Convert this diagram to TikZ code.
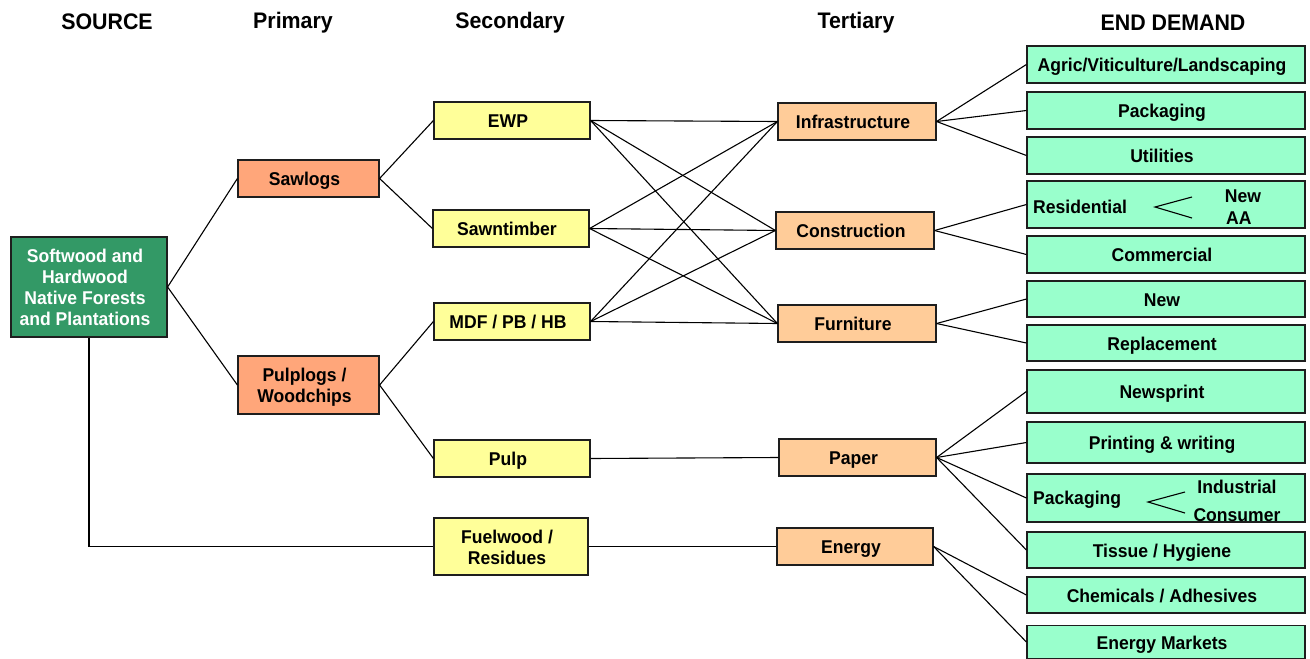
\documentclass[tikz,border=0pt]{standalone}
\usepackage{fontspec}
\setmainfont{Liberation Sans}[FakeStretch=0.95]
\definecolor{srcgreen}{RGB}{51,153,102}
\definecolor{salmon}{RGB}{255,166,122}
\definecolor{paleyellow}{RGB}{255,255,153}
\definecolor{peach}{RGB}{255,204,153}
\definecolor{mint}{RGB}{153,255,204}
\definecolor{edge}{RGB}{30,30,30}
\newcommand{\mlines}[1]{\begin{tabular}[b]{@{}c@{}}#1\end{tabular}}
\tikzset{
  box/.style={draw=edge, line width=1.2pt, inner sep=1pt, text depth=0pt, text height=14pt,
    font=\fontsize{18.5}{21}\selectfont\bfseries,
    execute at end node={\hspace*{8pt}}},
  twolines/.style={text height=35pt},
  fourlines/.style={text height=77pt},
  srcbox/.style={box, fill=srcgreen, text=white},
  primbox/.style={box, fill=salmon},
  secbox/.style={box, fill=paleyellow},
  terbox/.style={box, fill=peach},
  endbox/.style={box, fill=mint, minimum width=278pt},
  head/.style={font=\fontsize{22.5}{25}\selectfont\bfseries},
  lbl/.style={font=\fontsize{18.5}{21}\selectfont\bfseries, inner sep=0pt, text height=14pt, text depth=0pt},
  conn/.style={draw=black, line width=1.1pt},
}
\begin{document}
\begin{tikzpicture}[x=1pt,y=-1pt]
\useasboundingbox (0,0) rectangle (1310,659);
% headers
\node[head] (hsrc) at (107,22) {SOURCE};
\node[head] (hprim) at (293,23) {Primary};
\node[head] (hsec) at (510,23) {Secondary};
\node[head] (hter) at (856,23) {Tertiary};
\node[head] (hend) at (1173,23) {END DEMAND};
% source
\node[srcbox, fourlines, minimum width=156pt, minimum height=100pt] (src) at (89,287) {\mlines{Softwood and\\Hardwood\\Native Forests\\and Plantations}};
% primary
\node[primbox, minimum width=141pt, minimum height=37pt] (saw) at (308.5,178.5) {Sawlogs};
\node[primbox, twolines, minimum width=141pt, minimum height=58pt] (pulplogs) at (308.5,385) {\mlines{Pulplogs /\\Woodchips}};
% secondary
\node[secbox, minimum width=156pt, minimum height=37pt] (ewp) at (512,120.5) {EWP};
\node[secbox, minimum width=156pt, minimum height=37pt] (sawn) at (511,228.5) {Sawntimber};
\node[secbox, minimum width=156pt, minimum height=37pt] (mdf) at (512,321.5) {MDF / PB / HB};
\node[secbox, minimum width=156pt, minimum height=37pt] (pulp) at (512,458.5) {Pulp};
\node[secbox, twolines, minimum width=154pt, minimum height=57pt] (fuel) at (511,546.5) {\mlines{Fuelwood /\\Residues}};
% tertiary
\node[terbox, minimum width=158pt, minimum height=37pt] (infra) at (857,121.5) {Infrastructure};
\node[terbox, minimum width=158pt, minimum height=37pt] (cons) at (855,230.5) {Construction};
\node[terbox, minimum width=158pt, minimum height=37pt] (furn) at (857,323.5) {Furniture};
\node[terbox, minimum width=157pt, minimum height=37pt] (paper) at (857.5,457.5) {Paper};
\node[terbox, minimum width=156pt, minimum height=37pt] (energy) at (855,546.5) {Energy};
% end demand
\node[endbox, minimum height=37pt] (agric) at (1166,64.5) {Agric/Viticulture/Landscaping};
\node[endbox, minimum height=37pt] (packa) at (1166,110.5) {Packaging};
\node[endbox, minimum height=37pt] (util) at (1166,155.5) {Utilities};
\node[endbox, minimum height=47pt] (resid) at (1166,204.5) {};
\node[endbox, minimum height=37pt] (comm) at (1166,254.5) {Commercial};
\node[endbox, minimum height=36pt] (new) at (1166,299) {New};
\node[endbox, minimum height=36pt] (repl) at (1166,343) {Replacement};
\node[endbox, minimum height=43pt] (newsp) at (1166,391.5) {Newsprint};
\node[endbox, minimum height=41pt] (print) at (1166,442.5) {Printing \& writing};
\node[endbox, minimum height=48pt] (packb) at (1166,498) {};
\node[endbox, minimum height=36pt] (tissue) at (1166,550) {Tissue / Hygiene};
\node[endbox, minimum height=36pt] (chem) at (1166,595) {Chemicals / Adhesives};
\node[endbox, minimum height=33pt] (emark) at (1166,642) {Energy Markets};
% inner labels
\node[lbl, anchor=west] (residtxt) at (1033,206) {Residential};
\node[lbl] (resnew) at (1243,195) {New};
\node[lbl, anchor=west] (resaa) at (1226,217) {AA};
\coordinate (rfork) at (1155,207);
\coordinate (rtop) at (1192,197);
\coordinate (rbot) at (1192,218);
\draw[conn] (rtop) -- (rfork) -- (rbot);
\node[lbl, anchor=west] (packtxt) at (1033,497) {Packaging};
\node[lbl] (pind) at (1237,486) {Industrial};
\node[lbl] (pcon) at (1237,514) {Consumer};
\coordinate (pfork) at (1148,502);
\coordinate (ptop) at (1185,492);
\coordinate (pbot) at (1185,513);
\draw[conn] (ptop) -- (pfork) -- (pbot);
% connectors
\draw[conn] (saw.west) -- (src.east) -- (pulplogs.west);
\draw[conn] (src.south) |- (fuel.west);
\draw[conn] (ewp.west) -- (saw.east) -- (sawn.west);
\draw[conn] (mdf.west) -- (pulplogs.east) -- (pulp.west);
\foreach \s in {ewp,sawn,mdf}{
  \foreach \t in {infra,cons,furn}{
    \draw[conn] (\s.east) -- (\t.west);
  }
}
\draw[conn] (pulp.east) -- (paper.west);
\draw[conn] (fuel.east) -- (energy.west);
\foreach \t in {agric,packa,util}{\draw[conn] (infra.east) -- (\t.west);}
\foreach \t in {resid,comm}{\draw[conn] (cons.east) -- (\t.west);}
\foreach \t in {new,repl}{\draw[conn] (furn.east) -- (\t.west);}
\foreach \t in {newsp,print,packb,tissue}{\draw[conn] (paper.east) -- (\t.west);}
\foreach \t in {chem,emark}{\draw[conn] (energy.east) -- (\t.west);}
\end{tikzpicture}
\end{document}
